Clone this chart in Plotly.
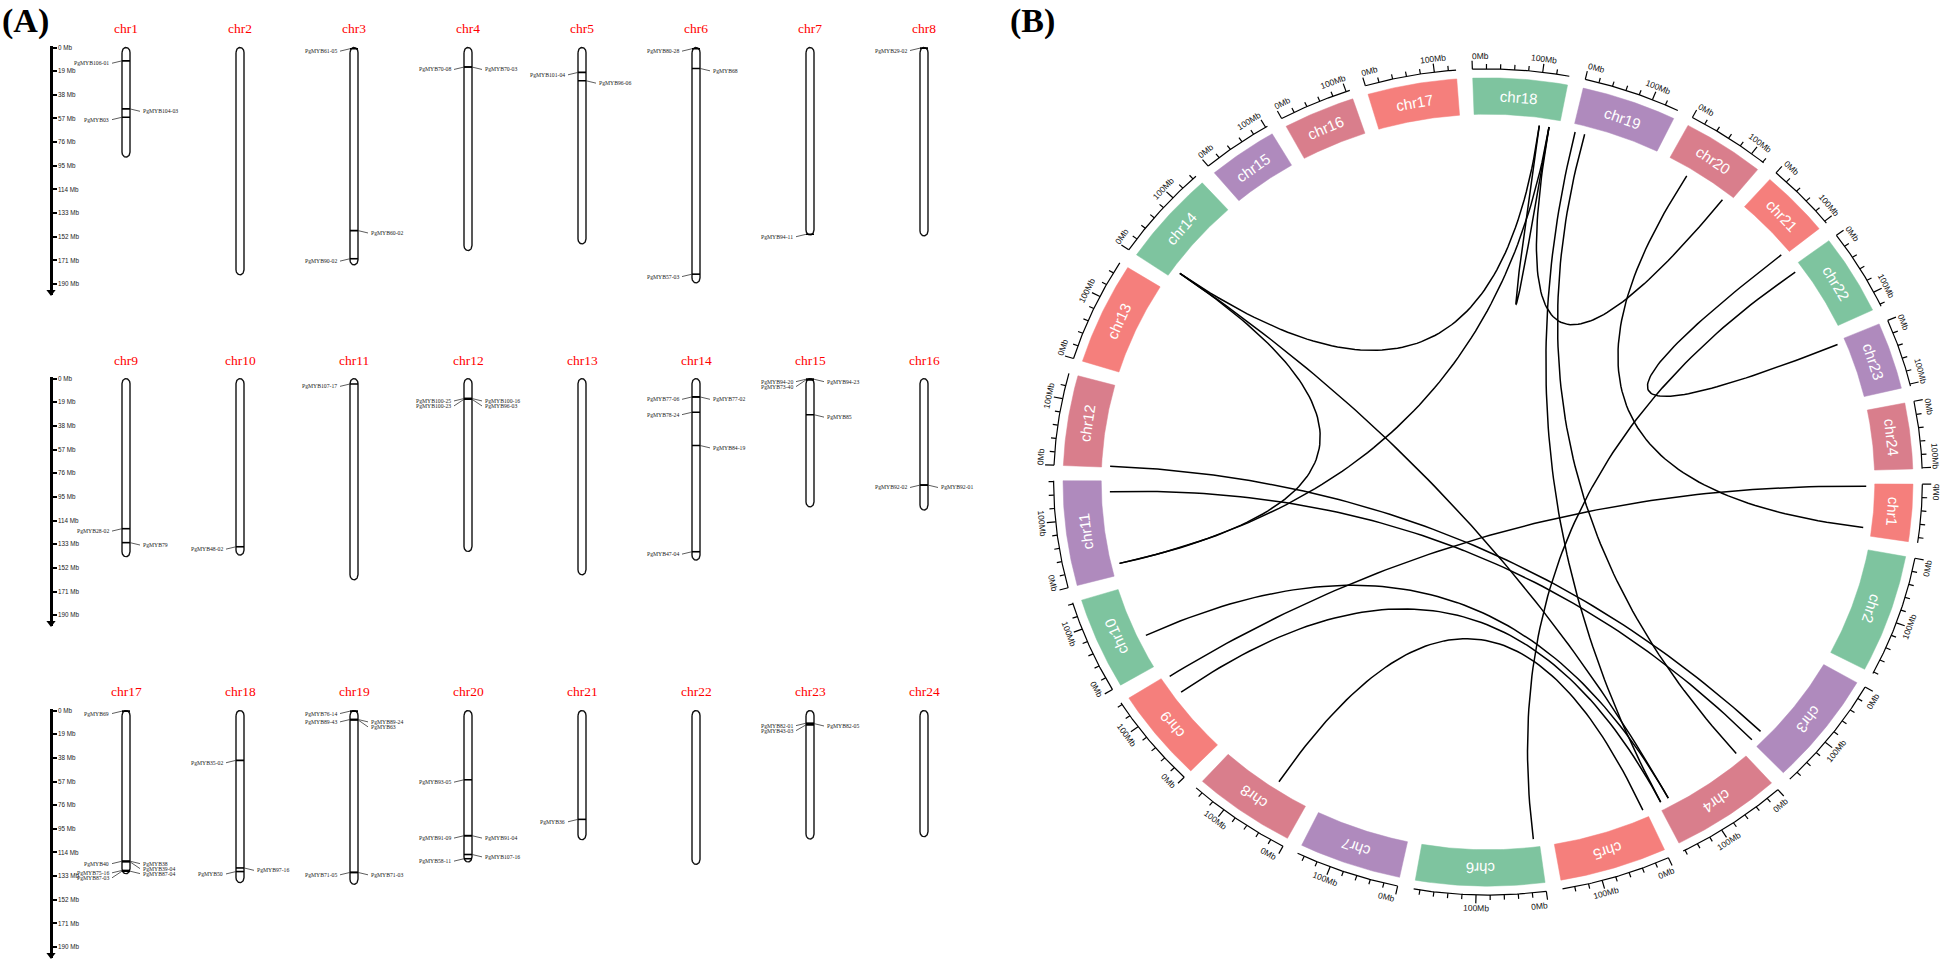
import numpy as np
import plotly.graph_objects as go

W, H = 1944, 963

# ---------------- data ----------------
chr_names = [f"chr{i}" for i in range(1, 25)]
chr_len = [88.0, 182.5, 174.5, 163.0, 157.7, 189.0, 150.5, 151.2,
           143.0, 141.7, 161.5, 138.8, 157.5, 145.7, 103.0, 105.5,
           131.0, 138.2, 139.5, 121.6, 103.7, 123.5, 103.2, 101.3]
mb_ticks = [0, 19, 38, 57, 76, 95, 114, 133, 152, 171, 190]

gene_chr = [1, 1, 1, 3, 3, 3, 4, 4, 5, 5, 6, 6, 6, 7, 8,
            9, 9, 10, 11, 12, 12, 12, 12, 14, 14, 14, 14, 14, 15, 15, 15, 15, 16, 16,
            17, 17, 17, 17, 17, 17, 17, 18, 18, 18, 19, 19, 19, 19, 19, 19,
            20, 20, 20, 20, 20, 21, 23, 23, 23]
gene_name = ["PgMYB106-01", "PgMYB104-03", "PgMYB03", "PgMYB61-05", "PgMYB60-02", "PgMYB90-02",
             "PgMYB70-08", "PgMYB70-03", "PgMYB101-04", "PgMYB96-06", "PgMYB80-28", "PgMYB68",
             "PgMYB57-03", "PgMYB94-11", "PgMYB29-02",
             "PgMYB28-02", "PgMYB79", "PgMYB48-02", "PgMYB107-17", "PgMYB100-25", "PgMYB100-23",
             "PgMYB100-16", "PgMYB96-03", "PgMYB77-06", "PgMYB77-02", "PgMYB78-24", "PgMYB84-19",
             "PgMYB47-04", "PgMYB94-20", "PgMYB73-40", "PgMYB94-23", "PgMYB85", "PgMYB92-02", "PgMYB92-01",
             "PgMYB69", "PgMYB40", "PgMYB75-16", "PgMYB87-03", "PgMYB38", "PgMYB39-04", "PgMYB87-04",
             "PgMYB35-02", "PgMYB97-16", "PgMYB50", "PgMYB76-14", "PgMYB89-43", "PgMYB89-24", "PgMYB63",
             "PgMYB71-05", "PgMYB71-03", "PgMYB93-05", "PgMYB91-09", "PgMYB91-04", "PgMYB107-16",
             "PgMYB58-11", "PgMYB36", "PgMYB82-01", "PgMYB43-03", "PgMYB82-05"]
gene_pos = [10.7, 49.3, 56.0, 1.0, 147.0, 169.6, 15.7, 15.7, 20.0, 26.7, 1.0, 16.8, 182.0, 150.0, 0.5,
            120.5, 131.7, 135.0, 4.3, 16.0, 16.6, 16.0, 16.6, 14.7, 14.7, 27.0, 53.7, 139.0,
            0.5, 1.0, 0.5, 29.0, 85.5, 85.5,
            0.5, 121.0, 128.4, 129.0, 121.0, 121.5, 129.0, 40.0, 126.4, 129.3,
            0.5, 7.2, 7.2, 7.5, 130.0, 130.0, 55.6, 100.5, 100.5, 115.6, 119.0, 87.4, 10.2, 11.5, 10.5]
gene_side = ["L", "R", "L", "L", "R", "L", "L", "R", "L", "R", "L", "R", "L", "L", "L",
             "L", "R", "L", "L", "L", "L", "R", "R", "L", "R", "L", "R", "L", "L", "L", "R", "R", "L", "R",
             "L", "L", "L", "L", "R", "R", "R", "L", "R", "L", "L", "L", "R", "R", "L", "R",
             "L", "L", "R", "R", "L", "L", "L", "L", "R"]

link_chr_a = [14, 14, 14, 11, 18, 18, 19, 19, 6, 21, 20, 1, 10, 9, 8, 12, 11]
link_pos_a = [13.5, 13.5, 13.5, 19.0, 106.0, 122.0, 4.0, 20.0, 9.0, 100.0, 39.0, 4.0, 53.0, 106.0, 58.0, 2.0, 143.0]
link_chr_b = [18, 11, 4, 18, 18, 20, 4, 4, 22, 23, 1, 9, 4, 4, 5, 3, 3]
link_pos_b = [106.0, 19.0, 144.0, 122.0, 122.0, 110.0, 158.0, 9.0, 10.6, 6.0, 75.0, 139.0, 144.0, 158.0, 4.0, 152.0, 172.0]

block_colors = ["#F57F7C", "#7EC49F", "#AF8ABD", "#D97E8C"]

# ---------------- panel A ----------------
fig = go.Figure()
lay = {}
annos = []

MB_PX = 1.248
ROW_TOP = [45.6, 377.4, 710.0]
XC0, XSTEP = 126.0, 114.0
AX_PX = 51.0
hw = 4.0 / XSTEP
capR = 5.0 / MB_PX
serif = "Liberation Serif"
sans = "Liberation Sans"

for r in range(3):
    xn = "x" if r == 0 else f"x{r+1}"
    yn = "y" if r == 0 else f"y{r+1}"
    xk = "xaxis" if r == 0 else f"xaxis{r+1}"
    yk = "yaxis" if r == 0 else f"yaxis{r+1}"
    top = ROW_TOP[r]
    py_a, py_b = top - 2.0, top + 248.0
    lay[xk] = dict(domain=[0, 1000.0 / W], range=[(0 - XC0) / XSTEP, (1000.0 - XC0) / XSTEP],
                   visible=False, anchor=yn)
    lay[yk] = dict(domain=[1 - py_b / H, 1 - py_a / H], range=[(py_b - top) / MB_PX, (py_a - top) / MB_PX],
                   anchor="free", position=AX_PX / W, side="right", showline=True, linecolor="black",
                   linewidth=2.6, ticks="outside", ticklen=4, tickwidth=2, tickcolor="black",
                   tickvals=mb_ticks, ticktext=[f"{v} Mb" for v in mb_ticks],
                   tickfont=dict(family=sans, size=6.3, color="#222"), showgrid=False, zeroline=False)

    ox, oy, mx, my, lx, ly = [], [], [], [], [], []
    for col in range(8):
        ci = r * 8 + col
        L = chr_len[ci]
        a1 = np.linspace(np.pi, 0, 30)
        a2 = np.linspace(0, np.pi, 30)
        xs = list(col + hw * np.cos(a1)) + list(col + hw * np.cos(a2))
        ys = list(capR * (1 - np.sin(a1))) + list(L - capR * (1 - np.sin(a2)))
        ox += xs + [xs[0], None]
        oy += ys + [ys[0], None]
        annos.append(dict(x=col, y=0, xref=xn, yref=yn, text=chr_names[ci], showarrow=False,
                          yshift=18.6, font=dict(family=serif, size=13.5, color="#FF0000")))
        for side in ("L", "R"):
            idx = [g for g in range(len(gene_chr)) if gene_chr[g] == ci + 1 and gene_side[g] == side]
            idx.sort(key=lambda g: gene_pos[g])
            prev = None
            for g in idx:
                p = gene_pos[g]
                lab = p + 2.4 / MB_PX
                if prev is not None:
                    lab = max(lab, prev + 5.0 / MB_PX)
                prev = lab
                mx += [col - hw, col + hw, None]
                my += [p, p, None]
                sgn = -1 if side == "L" else 1
                lx += [col + sgn * hw, col + sgn * (hw + 10.0 / XSTEP), None]
                ly += [p, lab, None]
                annos.append(dict(x=col + sgn * (hw + 11.0 / XSTEP), y=lab, xref=xn, yref=yn,
                                  text=gene_name[g], showarrow=False,
                                  xanchor="right" if side == "L" else "left", yanchor="middle",
                                  font=dict(family=serif, size=5.7, color="#222")))
    fig.add_trace(go.Scatter(x=ox, y=oy, xaxis=xn, yaxis=yn, mode="lines", fill="toself",
                             fillcolor="white", line=dict(color="#111", width=1.4),
                             hoverinfo="skip", showlegend=False))
    fig.add_trace(go.Scatter(x=mx, y=my, xaxis=xn, yaxis=yn, mode="lines",
                             line=dict(color="black", width=1.6), hoverinfo="skip", showlegend=False))
    fig.add_trace(go.Scatter(x=lx, y=ly, xaxis=xn, yaxis=yn, mode="lines",
                             line=dict(color="#333", width=0.8), hoverinfo="skip", showlegend=False))
    fig.add_trace(go.Scatter(x=[(AX_PX - XC0) / XSTEP], y=[(py_b - top - 3) / MB_PX], xaxis=xn, yaxis=yn,
                             mode="markers", marker=dict(symbol="triangle-down", size=8, color="black"),
                             cliponaxis=False, hoverinfo="skip", showlegend=False))

# ---------------- panel B ----------------
CX, CY, RXP, RYP = 1488.0, 481.0, 425.0, 405.0
bx0, bx1, by0, by1 = 985.0, 1944.0, 25.0, 963.0
lay["xaxis4"] = dict(domain=[bx0 / W, bx1 / W], range=[(bx0 - CX) / RXP, (bx1 - CX) / RXP],
                     visible=False, anchor="y4")
lay["yaxis4"] = dict(domain=[1 - by1 / H, 1 - by0 / H], range=[(CY - by1) / RYP, (CY - by0) / RYP],
                     visible=False, anchor="x4")

GAP = 2.155
START = 0.3
total = sum(chr_len)
K = (360.0 - 24 * GAP) / total
cum = np.concatenate([[0], np.cumsum(chr_len)[:-1]])
start_deg = [START + K * cum[i] + GAP * i for i in range(24)]


def pt(deg, r):
    a = np.radians(deg)
    return r * np.cos(a), -r * np.sin(a)


def norm_angle(a):
    return ((a + 180.0) % 360.0) - 180.0


R_IN, R_OUT, R_LINK = 0.91, 1.0, 0.89
R_AX, R_MIN, R_MAJ, R_LAB = 1.022, 1.034, 1.043, 1.055

for c in range(4):
    bxs, bys = [], []
    for i in range(c, 24, 4):
        s = start_deg[i]
        e = s + K * chr_len[i]
        aa = np.linspace(s, e, 40)
        xo, yo = pt(aa, R_OUT)
        xi, yi = pt(aa[::-1], R_IN)
        xs = list(xo) + list(xi)
        ys = list(yo) + list(yi)
        bxs += xs + [xs[0], None]
        bys += ys + [ys[0], None]
    fig.add_trace(go.Scatter(x=bxs, y=bys, xaxis="x4", yaxis="y4", mode="lines", fill="toself",
                             fillcolor=block_colors[c], line=dict(color=block_colors[c], width=0.5),
                             hoverinfo="skip", showlegend=False))

tx, ty = [], []
lab_r_px = R_LAB * 0.5 * (RXP + RYP)
for i in range(24):
    s = start_deg[i]
    L = chr_len[i]
    e = s + K * L
    aa = np.linspace(s, e, 60)
    x, y = pt(aa, R_AX)
    tx += list(x) + [None]
    ty += list(y) + [None]
    for m in range(0, int(L) + 1, 20):
        a = s + K * m
        r2 = R_MAJ if m % 100 == 0 else R_MIN
        x1, y1 = pt(a, R_AX)
        x2, y2 = pt(a, r2)
        tx += [x1, x2, None]
        ty += [y1, y2, None]
        if m % 100 == 0:
            txt = f"{m}Mb"
            wpx = 8.5 * (1.945 if m == 0 else 3.057)
            half = np.degrees(0.5 * wpx / lab_r_px)
            ac = a
            if ac - half < s:
                ac = s + half
            if ac + half > e:
                ac = e - half
            am = ac % 360.0
            ang = am - 90 if 0 < am < 180 else am + 90
            lx_, ly_ = pt(ac, R_LAB)
            annos.append(dict(x=lx_, y=ly_, xref="x4", yref="y4", text=txt, showarrow=False,
                              textangle=norm_angle(ang), xanchor="center", yanchor="middle",
                              font=dict(family=sans, size=8.5, color="#111")))
    mid = s + K * L / 2
    nx_, ny_ = pt(mid, (R_IN + R_OUT) / 2)
    annos.append(dict(x=nx_, y=ny_, xref="x4", yref="y4", text=chr_names[i], showarrow=False,
                      textangle=norm_angle(mid + 90), xanchor="center", yanchor="middle",
                      font=dict(family=sans, size=15, color="white")))
fig.add_trace(go.Scatter(x=tx, y=ty, xaxis="x4", yaxis="y4", mode="lines",
                         line=dict(color="black", width=1.2), hoverinfo="skip", showlegend=False,
                         cliponaxis=False))

kx, ky = [], []
t = np.linspace(0, 1, 80)
for ca, pa, cb, pb in zip(link_chr_a, link_pos_a, link_chr_b, link_pos_b):
    a1 = start_deg[ca - 1] + K * pa
    a2 = start_deg[cb - 1] + K * pb
    x0, y0 = pt(a1, R_LINK)
    x2, y2 = pt(a2, R_LINK)
    bx = (1 - t) ** 2 * x0 + t ** 2 * x2
    by = (1 - t) ** 2 * y0 + t ** 2 * y2
    kx += list(bx) + [None]
    ky += list(by) + [None]
fig.add_trace(go.Scatter(x=kx, y=ky, xaxis="x4", yaxis="y4", mode="lines",
                         line=dict(color="black", width=1.5), hoverinfo="skip", showlegend=False))

annos.append(dict(x=0.0, y=1.0, xref="paper", yref="paper", text="<b>(A)</b>", showarrow=False,
                  xanchor="left", yanchor="top", yshift=2,
                  font=dict(family=serif, size=34, color="black")))
annos.append(dict(x=1008.0 / W, y=1.0, xref="paper", yref="paper", text="<b>(B)</b>", showarrow=False,
                  xanchor="left", yanchor="top", yshift=2,
                  font=dict(family=serif, size=34, color="black")))

fig.update_layout(width=W, height=H, margin=dict(l=0, r=0, t=0, b=0),
                  paper_bgcolor="white", plot_bgcolor="white", showlegend=False,
                  annotations=annos, **lay)
fig.write_html("out.html", config={"displayModeBar": False},
               post_script="document.body.style.margin='0px';document.body.style.padding='0px';"
                           "document.body.style.overflow='hidden';")
